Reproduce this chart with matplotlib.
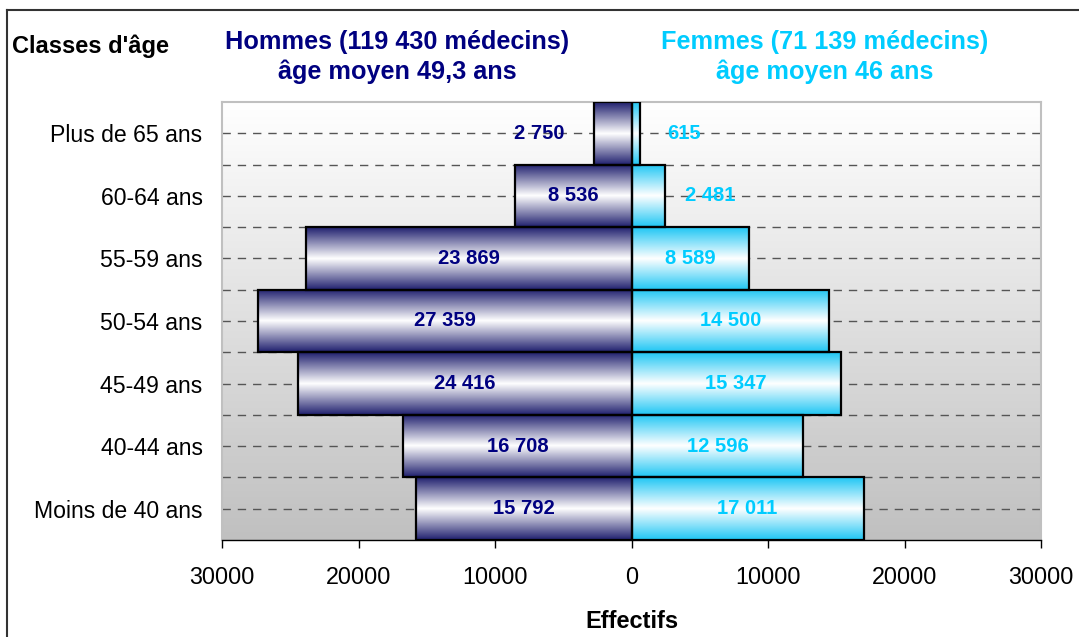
import numpy as np
import matplotlib
matplotlib.use("Agg")
import matplotlib.pyplot as plt
from matplotlib.colors import LinearSegmentedColormap
from matplotlib.ticker import FuncFormatter
from matplotlib.lines import Line2D

plt.rcParams['font.family'] = ['Liberation Sans', 'DejaVu Sans']

# donnees (du bas vers le haut)
classes = ["Moins de 40 ans", "40-44 ans", "45-49 ans", "50-54 ans",
           "55-59 ans", "60-64 ans", "Plus de 65 ans"]
hommes = [15792, 16708, 24416, 27359, 23869, 8536, 2750]
femmes = [17011, 12596, 15347, 14500, 8589, 2481, 615]
titre_h = "Hommes (119 430 médecins)\nâge moyen 49,3 ans"
titre_f = "Femmes (71 139 médecins)\nâge moyen 46 ans"

navy = "#000080"
cyan = "#00ccff"

W, H = 1079, 637
fig = plt.figure(figsize=(W / 100, H / 100), dpi=100)
ax = fig.add_axes([222 / W, (H - 540) / H, (1041 - 222) / W, (540 - 102) / H])

ax.set_xlim(-30000, 30000)
ax.set_ylim(-0.5, len(classes) - 0.5)

# fond degrade blanc -> gris
bg = LinearSegmentedColormap.from_list("bg", ["#c0c0c0", "#ffffff"])
ax.imshow(np.linspace(0, 1, 256).reshape(-1, 1), cmap=bg, origin="lower",
          extent=[-30000, 30000, -0.5, len(classes) - 0.5],
          aspect="auto", zorder=0)

# grille pointillee (centres + limites)
for k in range(len(classes)):
    for yy in (k, k + 0.5):
        if yy < len(classes) - 0.5:
            ax.axhline(yy, color="#555555", lw=1, dashes=(6, 5), zorder=1)

cm_h = LinearSegmentedColormap.from_list("h", ["#1f1f6e", "#ffffff", "#1f1f6e"])
cm_f = LinearSegmentedColormap.from_list("f", ["#1ec6f4", "#ffffff", "#1ec6f4"])
grad = np.linspace(0, 1, 256).reshape(-1, 1)

y = np.arange(len(classes))
bars_h = ax.barh(y, [-v for v in hommes], height=1, facecolor="none",
                 edgecolor="black", lw=1.6, zorder=3)
bars_f = ax.barh(y, femmes, height=1, facecolor="none",
                 edgecolor="black", lw=1.6, zorder=3)

for bars, cm in ((bars_h, cm_h), (bars_f, cm_f)):
    for b in bars:
        x0, y0 = b.get_x(), b.get_y()
        im = ax.imshow(grad, cmap=cm, origin="lower", aspect="auto",
                       extent=[x0, x0 + b.get_width(), y0, y0 + b.get_height()],
                       interpolation="bilinear", zorder=2)
        im.set_clip_path(b)

ax.set_xlim(-30000, 30000)
ax.set_ylim(-0.5, len(classes) - 0.5)

def fmt(v):
    return f"{v:,}".replace(",", " ")

for i, (vh, vf) in enumerate(zip(hommes, femmes)):
    xh = vh / 2 if vh > 5000 else vh + 4000
    xf = vf / 2 if vf > 5000 else vf + 3250
    ax.text(-xh, i, fmt(vh), ha="center", va="center", color=navy,
            fontsize=14.5, fontweight="bold", zorder=4)
    ax.text(xf, i, fmt(vf), ha="center", va="center", color=cyan,
            fontsize=14.5, fontweight="bold", zorder=4)

ax.set_yticks(y)
ax.set_yticklabels(classes, fontsize=16.6)
ax.tick_params(axis="y", length=0, pad=14)
ax.set_xticks([-30000, -20000, -10000, 0, 10000, 20000, 30000])
ax.xaxis.set_major_formatter(FuncFormatter(lambda v, p: f"{abs(int(v))}"))
ax.tick_params(axis="x", length=6, width=1, labelsize=16.8, pad=13, direction="out")
ax.set_xlabel("Effectifs", fontsize=17, fontweight="bold", labelpad=15)

for s in ("top", "left", "right"):
    ax.spines[s].set_color("#c0c0c0")
    ax.spines[s].set_linewidth(1.5)
ax.spines["bottom"].set_color("black")
ax.spines["bottom"].set_linewidth(1)

fig.text(12 / W, 1 - 46 / H, "Classes d'âge", fontsize=17, fontweight="bold",
         ha="left", va="center")
fig.text(397 / W, 1 - 57 / H, titre_h, fontsize=18.2, fontweight="bold",
         color=navy, ha="center", va="center", linespacing=1.3)
fig.text(825 / W, 1 - 57 / H, titre_f, fontsize=18.2, fontweight="bold",
         color=cyan, ha="center", va="center", linespacing=1.3)

# cadre de la zone graphique
fig.add_artist(Line2D([7 / W, 7 / W], [0, 1 - 10 / H], color="#333333", lw=1.5))
fig.add_artist(Line2D([7 / W, 1], [1 - 10 / H, 1 - 10 / H], color="#333333", lw=1.5))

fig.savefig("out.png", dpi=100)
